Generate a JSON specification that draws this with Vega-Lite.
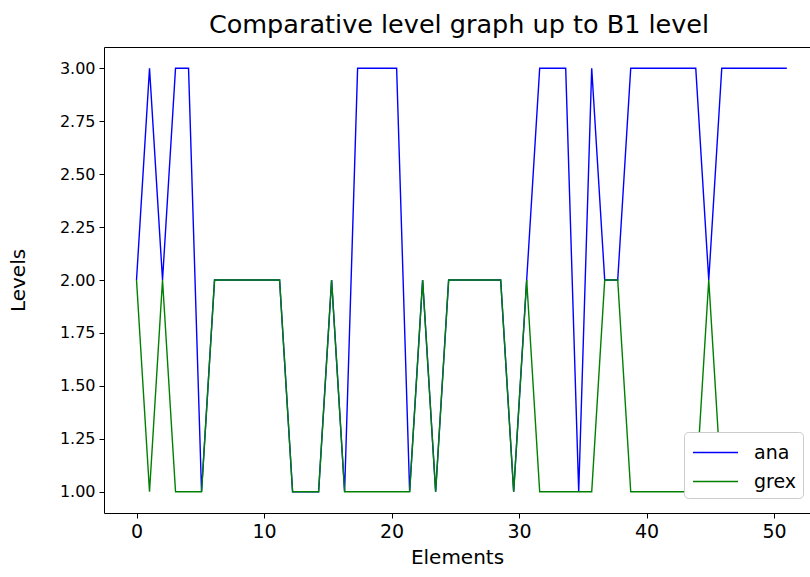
{
  "$schema": "https://vega.github.io/schema/vega-lite/v6.json",
  "autosize": {"type": "none"},
  "padding": {"left": 104, "top": 47, "right": 0, "bottom": 64},
  "width": 706,
  "height": 466,
  "background": "white",
  "title": {"text": "Comparative level graph up to B1 level", "fontSize": 25.5, "font": "DejaVu Sans", "fontWeight": "normal", "color": "#000000", "offset": 9, "anchor": "middle", "dx": 2},
  "config": {
    "view": {"stroke": "#000000", "strokeWidth": 1},
    "axis": {"grid": false, "domain": false, "tickColor": "#000000", "tickSize": 5, "labelColor": "#000000", "titleColor": "#000000", "labelFont": "DejaVu Sans", "titleFont": "DejaVu Sans", "labelFontSize": 19, "titleFontSize": 20, "titleFontWeight": "normal", "labelPadding": 4}
  },
  "datasets": {
    "levels": [
      {"x": 0, "level": 2, "series": "ana"}, {"x": 1.02, "level": 3, "series": "ana"}, {"x": 2.04, "level": 2, "series": "ana"}, {"x": 3.06, "level": 3, "series": "ana"}, {"x": 4.08, "level": 3, "series": "ana"},
      {"x": 5.1, "level": 1, "series": "ana"}, {"x": 6.12, "level": 2, "series": "ana"}, {"x": 7.14, "level": 2, "series": "ana"}, {"x": 8.16, "level": 2, "series": "ana"}, {"x": 9.18, "level": 2, "series": "ana"},
      {"x": 10.2, "level": 2, "series": "ana"}, {"x": 11.22, "level": 2, "series": "ana"}, {"x": 12.24, "level": 1, "series": "ana"}, {"x": 13.26, "level": 1, "series": "ana"}, {"x": 14.28, "level": 1, "series": "ana"},
      {"x": 15.3, "level": 2, "series": "ana"}, {"x": 16.32, "level": 1, "series": "ana"}, {"x": 17.34, "level": 3, "series": "ana"}, {"x": 18.36, "level": 3, "series": "ana"}, {"x": 19.38, "level": 3, "series": "ana"},
      {"x": 20.4, "level": 3, "series": "ana"}, {"x": 21.42, "level": 1, "series": "ana"}, {"x": 22.44, "level": 2, "series": "ana"}, {"x": 23.46, "level": 1, "series": "ana"}, {"x": 24.48, "level": 2, "series": "ana"},
      {"x": 25.5, "level": 2, "series": "ana"}, {"x": 26.52, "level": 2, "series": "ana"}, {"x": 27.54, "level": 2, "series": "ana"}, {"x": 28.56, "level": 2, "series": "ana"}, {"x": 29.58, "level": 1, "series": "ana"},
      {"x": 30.6, "level": 2, "series": "ana"}, {"x": 31.62, "level": 3, "series": "ana"}, {"x": 32.64, "level": 3, "series": "ana"}, {"x": 33.66, "level": 3, "series": "ana"}, {"x": 34.68, "level": 1, "series": "ana"},
      {"x": 35.7, "level": 3, "series": "ana"}, {"x": 36.72, "level": 2, "series": "ana"}, {"x": 37.74, "level": 2, "series": "ana"}, {"x": 38.76, "level": 3, "series": "ana"}, {"x": 39.78, "level": 3, "series": "ana"},
      {"x": 40.8, "level": 3, "series": "ana"}, {"x": 41.82, "level": 3, "series": "ana"}, {"x": 42.84, "level": 3, "series": "ana"}, {"x": 43.86, "level": 3, "series": "ana"}, {"x": 44.88, "level": 2, "series": "ana"},
      {"x": 45.9, "level": 3, "series": "ana"}, {"x": 46.92, "level": 3, "series": "ana"}, {"x": 47.94, "level": 3, "series": "ana"}, {"x": 48.96, "level": 3, "series": "ana"}, {"x": 49.98, "level": 3, "series": "ana"},
      {"x": 51.0, "level": 3, "series": "ana"},
      {"x": 0, "level": 2, "series": "grex"}, {"x": 1.02, "level": 1, "series": "grex"}, {"x": 2.04, "level": 2, "series": "grex"}, {"x": 3.06, "level": 1, "series": "grex"}, {"x": 4.08, "level": 1, "series": "grex"},
      {"x": 5.1, "level": 1, "series": "grex"}, {"x": 6.12, "level": 2, "series": "grex"}, {"x": 7.14, "level": 2, "series": "grex"}, {"x": 8.16, "level": 2, "series": "grex"}, {"x": 9.18, "level": 2, "series": "grex"},
      {"x": 10.2, "level": 2, "series": "grex"}, {"x": 11.22, "level": 2, "series": "grex"}, {"x": 12.24, "level": 1, "series": "grex"}, {"x": 13.26, "level": 1, "series": "grex"}, {"x": 14.28, "level": 1, "series": "grex"},
      {"x": 15.3, "level": 2, "series": "grex"}, {"x": 16.32, "level": 1, "series": "grex"}, {"x": 17.34, "level": 1, "series": "grex"}, {"x": 18.36, "level": 1, "series": "grex"}, {"x": 19.38, "level": 1, "series": "grex"},
      {"x": 20.4, "level": 1, "series": "grex"}, {"x": 21.42, "level": 1, "series": "grex"}, {"x": 22.44, "level": 2, "series": "grex"}, {"x": 23.46, "level": 1, "series": "grex"}, {"x": 24.48, "level": 2, "series": "grex"},
      {"x": 25.5, "level": 2, "series": "grex"}, {"x": 26.52, "level": 2, "series": "grex"}, {"x": 27.54, "level": 2, "series": "grex"}, {"x": 28.56, "level": 2, "series": "grex"}, {"x": 29.58, "level": 1, "series": "grex"},
      {"x": 30.6, "level": 2, "series": "grex"}, {"x": 31.62, "level": 1, "series": "grex"}, {"x": 32.64, "level": 1, "series": "grex"}, {"x": 33.66, "level": 1, "series": "grex"}, {"x": 34.68, "level": 1, "series": "grex"},
      {"x": 35.7, "level": 1, "series": "grex"}, {"x": 36.72, "level": 2, "series": "grex"}, {"x": 37.74, "level": 2, "series": "grex"}, {"x": 38.76, "level": 1, "series": "grex"}, {"x": 39.78, "level": 1, "series": "grex"},
      {"x": 40.8, "level": 1, "series": "grex"}, {"x": 41.82, "level": 1, "series": "grex"}, {"x": 42.84, "level": 1, "series": "grex"}, {"x": 43.86, "level": 1, "series": "grex"}, {"x": 44.88, "level": 2, "series": "grex"},
      {"x": 45.9, "level": 1, "series": "grex"}, {"x": 46.92, "level": 1, "series": "grex"}, {"x": 47.94, "level": 1, "series": "grex"}, {"x": 48.96, "level": 1, "series": "grex"}, {"x": 49.98, "level": 1, "series": "grex"},
      {"x": 51.0, "level": 1, "series": "grex"}
    ]
  },
  "data": {"name": "levels"},
  "mark": {"type": "line", "strokeWidth": 1.4, "clip": true},
  "encoding": {
    "x": {"field": "x", "type": "quantitative", "title": "Elements", "scale": {"domain": [-2.55, 52.82], "nice": false, "zero": false}, "axis": {"values": [0, 10, 20, 30, 40, 50], "format": "d", "titlePadding": 6}},
    "y": {"field": "level", "type": "quantitative", "title": "Levels", "scale": {"domain": [0.9, 3.1], "nice": false, "zero": false}, "axis": {"values": [1, 1.25, 1.5, 1.75, 2, 2.25, 2.5, 2.75, 3], "format": ".2f", "labelFontSize": 16, "titlePadding": 31}},
    "color": {"field": "series", "type": "nominal", "scale": {"domain": ["ana", "grex"], "range": ["#0000ff", "#008000"]},
      "legend": {"title": null, "orient": "none", "legendX": 580, "legendY": 385, "symbolType": "M-1.67,0H1.67", "symbolSize": 729, "symbolOffset": 11, "symbolStrokeWidth": 1.5, "labelFontSize": 19, "labelFont": "DejaVu Sans", "labelColor": "#000000", "labelOffset": 24, "rowPadding": 4, "padding": 6, "fillColor": "white", "strokeColor": "#cccccc", "cornerRadius": 4}}
  }
}
